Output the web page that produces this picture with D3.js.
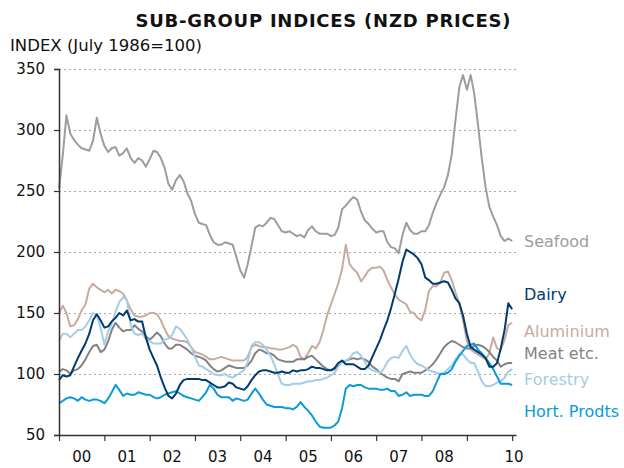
<!DOCTYPE html>
<html>
<head>
<meta charset="utf-8">
<script src="https://cdn.jsdelivr.net/npm/d3@7"></script>
<style>
  body { margin: 0; background: #fff; }
  text { font-family: "DejaVu Sans", Verdana, sans-serif; }
</style>
</head>
<body>
<svg class="indexChart"></svg>
<script>
// monthly index values, Jan 2000 onwards
var seafood = [252,280,312,297,292,288,285,284,283,291,310,297,287,282,285,286,279,281,285,277,
  273,277,275,270,276,283,282,277,269,256,251,259,263,258,248,242,231,224,223,222,
  214,208,206,206,208,207,206,196,185,179,190,205,220,222,221,224,228,227,222,217,
  216,217,215,213,214,212,218,221,217,215,215,215,213,214,220,235,238,242,245,243,
  233,226,223,219,216,217,217,208,204,203,199,214,224,218,215,215,217,217,222,232,
  240,247,253,263,280,308,335,345,333,345,330,304,277,253,237,229,222,213,209,211,209];
var dairy = [95,99,98,99,106,113,119,125,133,144,149,144,138,139,143,146,150,148,152,144,
  145,143,143,130,120,113,107,97,89,82,80,84,91,95,96,96,96,96,95,95,
  93,91,89,89,90,93,92,89,88,87,90,95,99,102,103,103,102,101,101,102,
  101,101,103,102,103,103,104,106,105,105,104,103,103,105,109,111,108,108,108,106,
  104,104,107,114,121,128,136,144,154,166,178,192,202,200,198,195,190,179,177,174,
  174,175,176,175,169,162,158,148,133,122,120,118,116,113,106,106,109,121,136,158,153];
var aluminium = [150,156,150,139,140,145,152,157,170,174,171,169,167,169,166,169,168,166,160,153,
  148,147,147,148,150,150,149,144,137,131,129,128,127,127,126,122,118,117,116,114,
  112,112,113,114,113,112,111,111,111,111,114,122,124,123,122,122,121,121,120,120,
  121,122,124,122,114,112,117,123,121,126,136,148,157,166,174,186,206,190,186,183,
  176,180,185,187,187,188,185,177,171,165,161,159,157,151,150,146,144,153,168,172,
  172,175,183,184,177,167,158,144,127,120,118,116,114,112,117,130,121,120,128,140,142];
var meat = [102,104,103,100,103,104,107,112,118,123,124,118,120,127,136,142,138,135,136,136,
  140,137,135,131,128,131,134,131,125,121,121,124,124,122,120,117,115,114,113,111,
  107,104,102,103,105,107,106,105,105,105,107,111,117,120,119,117,117,115,112,111,
  110,110,110,112,112,112,114,115,112,109,106,104,103,104,107,110,111,112,113,112,
  113,112,110,106,104,101,99,97,96,96,94,100,101,102,101,101,101,103,105,108,
  112,117,122,125,127,126,124,122,121,121,123,124,123,121,118,114,111,106,108,109,109];
var forestry = [127,133,133,130,133,136,136,139,144,150,148,138,124,135,141,151,159,163,161,140,
  133,132,133,129,127,125,125,125,128,129,132,139,137,133,128,122,114,107,106,104,
  102,100,99,99,100,98,97,99,101,103,110,123,126,126,124,120,115,108,99,92,
  91,91,92,92,92,93,94,94,95,95,96,97,99,101,106,110,111,113,117,118,
  115,110,105,103,102,101,104,110,113,114,113,119,123,116,111,108,107,105,103,102,
  101,100,101,104,107,112,116,116,112,109,109,102,94,90,90,91,93,94,97,102,104];
var hort = [76,78,80,81,80,78,81,79,78,79,79,78,76,80,85,91,87,82,84,83,
  83,85,84,83,83,81,80,81,83,84,85,86,84,82,81,80,79,78,81,85,
  91,88,83,81,81,81,78,80,79,78,79,84,88,84,79,75,74,73,73,73,
  72,72,71,73,77,73,70,66,61,57,56,56,56,58,61,72,88,91,90,91,
  91,89,88,88,88,87,87,88,86,86,82,83,85,82,83,83,83,82,82,86,
  93,100,100,101,104,110,115,119,123,124,125,120,117,113,109,104,98,92,92,92,91];

// drawing order, back to front
var seriesNames = ["Seafood", "Aluminium", "Meat etc.", "Forestry", "Hort. Prodts", "Dairy"];
var seriesValues = [seafood, aluminium, meat, forestry, hort, dairy];
var seriesColours = ["#9d9d9d", "#c8ab9f", "#838383", "#a6cde4", "#0b9bd7", "#003b70"];
// where each name sits on the right, in index units
var labelValues = [209, 135, 117, 95.5, 69, 165];

var yTicks = [50, 100, 150, 200, 250, 300, 350];
var tickYears = [2000, 2001, 2002, 2003, 2004, 2005, 2006, 2007, 2008, 2009, 2010];
var labelYears = [2000, 2001, 2002, 2003, 2004, 2005, 2006, 2007, 2008, 2010];

var svgWidth = 624, svgHeight = 468;
var margin = { top: 69, right: 108, bottom: 33, left: 59 };

var svg = d3.select("svg.indexChart")
  .attr("width", svgWidth)
  .attr("height", svgHeight);

var firstDate = new Date(2000, 0, 1);
var lastDate = new Date(2010, 1, 1);

var x = d3.scaleTime()
  .domain([firstDate, lastDate])
  .range([margin.left, svgWidth - margin.right]);

var y = d3.scaleLinear()
  .domain([50, 350])
  .range([svgHeight - margin.bottom, margin.top]);

function monthDate(i) { return new Date(2000, i, 1); }

// titles
svg.append("text")
  .attr("x", 323)
  .attr("y", 27)
  .attr("text-anchor", "middle")
  .attr("font-size", 18)
  .attr("font-weight", "bold")
  .attr("fill", "#111")
  .attr("textLength", 375)
  .attr("lengthAdjust", "spacing")
  .text("SUB-GROUP INDICES (NZD PRICES)");

svg.append("text")
  .attr("x", 10)
  .attr("y", 51)
  .attr("font-size", 16.5)
  .attr("fill", "#111")
  .text("INDEX (July 1986=100)");

// dotted gridlines
svg.append("g")
  .selectAll("line")
  .data(yTicks.slice(1))
  .enter().append("line")
    .attr("x1", margin.left)
    .attr("x2", svgWidth - margin.right)
    .attr("y1", function(d) { return y(d) + 0.5; })
    .attr("y2", function(d) { return y(d) + 0.5; })
    .attr("stroke", "#a8a8a8")
    .attr("stroke-width", 1)
    .attr("stroke-dasharray", "2,3");

// the series lines
var line = d3.line()
  .x(function(d, i) { return x(monthDate(i)); })
  .y(function(d) { return y(d); });

svg.append("g")
  .selectAll("path")
  .data(seriesValues)
  .enter().append("path")
    .attr("d", line)
    .attr("fill", "none")
    .attr("stroke", function(d, i) { return seriesColours[i]; })
    .attr("stroke-width", 2)
    .attr("stroke-linejoin", "round");

// axes
var yAxis = svg.append("g")
  .attr("transform", "translate(" + margin.left + ",0)")
  .call(d3.axisLeft(y).tickValues(yTicks).tickSize(5).tickSizeOuter(5).tickPadding(9));

var xAxis = svg.append("g")
  .attr("transform", "translate(0," + (svgHeight - margin.bottom) + ")")
  .call(d3.axisBottom(x)
    .tickValues(tickYears.map(function(yr) { return new Date(yr, 0, 1); }))
    .tickSize(6).tickSizeOuter(0).tickFormat(""));

[yAxis, xAxis].forEach(function(ax) {
  ax.select(".domain").attr("stroke", "#333").attr("stroke-width", 1.5);
  ax.selectAll(".tick line").attr("stroke", "#333").attr("stroke-width", 1.2);
});
yAxis.selectAll("text")
  .attr("font-size", 15)
  .attr("fill", "#111")
  .style("font-family", "'DejaVu Sans', Verdana, sans-serif");

// year labels sit in the middle of each year (clipped to the data range)
svg.append("g")
  .selectAll("text")
  .data(labelYears)
  .enter().append("text")
    .attr("x", function(yr) {
      var a = new Date(yr, 0, 1);
      var b = new Date(Math.min(+new Date(yr + 1, 0, 1), +lastDate));
      return (x(a) + x(b)) / 2;
    })
    .attr("y", 468 - 6)
    .attr("text-anchor", "middle")
    .attr("font-size", 15)
    .attr("fill", "#111")
    .text(function(yr) { return String(yr).slice(2); });

// series names at the right
svg.append("g")
  .selectAll("text")
  .data(seriesNames)
  .enter().append("text")
    .attr("x", 524)
    .attr("y", function(d, i) { return y(labelValues[i]); })
    .attr("dy", "0.35em")
    .attr("font-size", 16)
    .attr("fill", function(d, i) { return seriesColours[i]; })
    .text(function(d) { return d; });
</script>
</body>
</html>
